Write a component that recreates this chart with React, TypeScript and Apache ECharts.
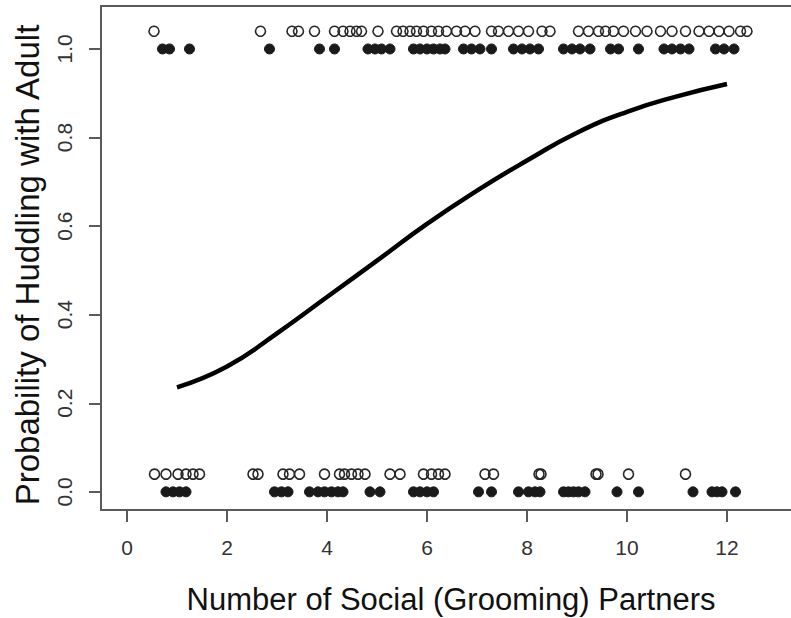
import React, { useEffect, useRef } from "react";
import * as echarts from "echarts";

// x positions of observations (jittered in the original plot)
const openTopX = [0.54, 2.67, 3.3, 3.43, 3.75, 4.15, 4.32, 4.46, 4.59, 4.69, 5.02, 5.39, 5.52, 5.66, 5.79, 5.93, 6.09, 6.23, 6.39, 6.59, 6.76, 6.96, 7.29, 7.43, 7.63, 7.83, 8.03, 8.3, 8.46, 9.03, 9.23, 9.43, 9.57, 9.73, 9.93, 10.17, 10.4, 10.67, 10.9, 11.17, 11.44, 11.64, 11.84, 12.04, 12.27, 12.4];
const filledTopX = [0.71, 0.85, 1.25, 2.85, 3.85, 4.15, 4.82, 4.96, 5.09, 5.26, 5.73, 5.86, 6.0, 6.13, 6.26, 6.36, 6.73, 6.89, 7.06, 7.29, 7.73, 7.9, 8.06, 8.23, 8.73, 8.9, 9.06, 9.26, 9.67, 9.83, 10.23, 10.74, 10.9, 11.07, 11.24, 11.77, 11.94, 12.14];
const openBottomX = [0.55, 0.78, 1.02, 1.18, 1.32, 1.45, 2.52, 2.62, 3.12, 3.25, 3.45, 3.95, 4.25, 4.35, 4.49, 4.62, 4.76, 5.26, 5.46, 5.93, 6.09, 6.23, 6.36, 7.16, 7.33, 8.24, 8.28, 9.38, 9.42, 10.03, 11.17];
const filledBottomX = [0.78, 0.92, 1.05, 1.18, 2.95, 3.09, 3.22, 3.65, 3.82, 3.95, 4.09, 4.22, 4.32, 4.86, 5.06, 5.73, 5.86, 6.0, 6.13, 7.03, 7.29, 7.83, 8.03, 8.16, 8.26, 8.73, 8.83, 8.93, 9.03, 9.16, 9.8, 10.23, 11.32, 11.7, 11.8, 11.9, 12.17];

// y levels of each group
const openTopY = 1.04;
const filledTopY = 1.0;
const openBottomY = 0.04;
const filledBottomY = 0.0;

// fitted curve
const curveX = [1, 2, 3, 4, 5, 6, 7, 8, 9, 10, 11, 12];
const curveY = [0.236, 0.283, 0.358, 0.44, 0.522, 0.605, 0.68, 0.748, 0.811, 0.858, 0.893, 0.921];

const xTicks = [0, 2, 4, 6, 8, 10, 12];
const yTicks = [0, 0.2, 0.4, 0.6, 0.8, 1.0];

const xTitle = "Number of Social (Grooming) Partners";
const yTitle = "Probability of Huddling with Adult";

const FONT = "'Liberation Sans', Arial, Helvetica, sans-serif";
const FRAME = "#5a5a5a";

export default function App() {
  const ref = useRef<HTMLDivElement>(null);
  useEffect(() => {
    document.body.style.margin = "0";
    if (!ref.current) return;
    const chart = echarts.init(ref.current, null, { renderer: "svg" });
    const pts = (xs: number[], y: number) => xs.map((x) => [x, y]);
    const openStyle = { color: "rgba(0,0,0,0)", borderColor: "#262626", borderWidth: 1.6, opacity: 1 };
    const filledStyle = { color: "#1a1a1a", borderColor: "#1a1a1a", borderWidth: 1, opacity: 1 };
    const X_MIN = -0.52;
    const X_MAX = 13.28;
    chart.setOption({
      animation: false,
      backgroundColor: "#fff",
      grid: {
        left: 101,
        top: 6,
        right: 0,
        height: 504,
        show: false,
      },
      xAxis: [
        {
          type: "value",
          position: "bottom",
          min: X_MIN,
          max: X_MAX,
          axisLine: { show: true, onZero: false, lineStyle: { color: FRAME, width: 2 } },
          splitLine: { show: false },
          axisTick: {
            show: true,
            inside: false,
            length: 12,
            customValues: xTicks,
            lineStyle: { color: FRAME, width: 2 },
          },
          axisLabel: {
            show: true,
            customValues: xTicks,
            margin: 27,
            fontSize: 21,
            color: "#333",
            fontFamily: FONT,
            formatter: (v: number) => String(v),
          },
        },
        {
          type: "value",
          position: "top",
          min: X_MIN,
          max: X_MAX,
          axisLine: { show: true, onZero: false, lineStyle: { color: FRAME, width: 2 } },
          splitLine: { show: false },
          axisTick: { show: false },
          axisLabel: { show: false },
        },
      ],
      yAxis: {
        type: "value",
        min: -0.041,
        max: 1.097,
        axisLine: { show: true, onZero: false, lineStyle: { color: FRAME, width: 2 } },
        splitLine: { show: false },
        axisTick: {
          show: true,
          inside: false,
          length: 12,
          customValues: yTicks,
          lineStyle: { color: FRAME, width: 2 },
        },
        axisLabel: {
          show: true,
          customValues: yTicks,
          rotate: 90,
          margin: 26,
          fontSize: 21,
          color: "#333",
          fontFamily: FONT,
          formatter: (v: number) => v.toFixed(1),
        },
      },
      graphic: [
        {
          type: "text",
          x: 27,
          y: 265,
          rotation: Math.PI / 2,
          style: {
            text: yTitle,
            fontSize: 33,
            fontFamily: FONT,
            fill: "#111",
            align: "center",
            verticalAlign: "middle",
          },
        },
        {
          type: "text",
          x: 451,
          y: 599,
          style: {
            text: xTitle,
            fontSize: 31,
            fontFamily: FONT,
            fill: "#111",
            align: "center",
            verticalAlign: "middle",
          },
        },
      ],
      series: [
        {
          type: "scatter",
          data: pts(openTopX, openTopY),
          symbol: "circle",
          symbolSize: 10,
          itemStyle: openStyle,
        },
        {
          type: "scatter",
          data: pts(filledTopX, filledTopY),
          symbol: "circle",
          symbolSize: 10,
          itemStyle: filledStyle,
        },
        {
          type: "scatter",
          data: pts(openBottomX, openBottomY),
          symbol: "circle",
          symbolSize: 10,
          itemStyle: openStyle,
        },
        {
          type: "scatter",
          data: pts(filledBottomX, filledBottomY),
          symbol: "circle",
          symbolSize: 10,
          itemStyle: filledStyle,
        },
        {
          type: "line",
          data: curveX.map((x, i) => [x, curveY[i]]),
          smooth: true,
          showSymbol: false,
          symbol: "none",
          lineStyle: { color: "#000", width: 4.5 },
          z: 5,
        },
      ],
    });
    return () => chart.dispose();
  }, []);
  return <div ref={ref} style={{ width: 791, height: 618 }} />;
}
